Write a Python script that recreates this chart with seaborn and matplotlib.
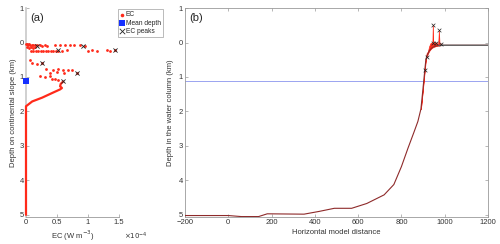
import numpy as np
import pandas as pd
import matplotlib
matplotlib.use("Agg")
import matplotlib.pyplot as plt
import seaborn as sns

# ---------------- data: panel (a) ----------------
# EC values in units of 1e-4 W m^-3, depth in km
ec_dots = [0.0, 0.01, 0.03, 0.05, 0.07, 0.09, 0.12, 0.15, 0.18, 0.22, 0.26, 0.30, 0.34, 0.47, 0.55, 0.63, 0.71, 0.77, 0.87, 0.95,
           0.02, 0.05, 0.08, 0.11, 0.15,
           0.08, 0.12, 0.16, 0.20, 0.24, 0.28, 0.32, 0.36, 0.40, 0.44, 0.48, 0.52, 0.58, 0.66, 1.00, 1.06, 1.15, 1.31, 1.35, 1.43,
           0.06, 0.10, 0.17, 0.26,
           0.33, 0.44, 0.52, 0.60, 0.68, 0.74, 0.39, 0.50, 0.62, 0.82,
           0.23, 0.30, 0.39, 0.42, 0.47, 0.52]
depth_dots = [0.05, 0.04, 0.06, 0.05, 0.07, 0.06, 0.07, 0.08, 0.07, 0.08, 0.09, 0.08, 0.09, 0.08, 0.08, 0.08, 0.08, 0.08, 0.08, 0.09,
              0.14, 0.15, 0.14, 0.15, 0.14,
              0.24, 0.25, 0.24, 0.25, 0.24, 0.25, 0.25, 0.24, 0.25, 0.25, 0.24, 0.25, 0.24, 0.22, 0.24, 0.23, 0.24, 0.23, 0.24, 0.23,
              0.50, 0.58, 0.62, 0.58,
              0.78, 0.79, 0.78, 0.80, 0.79, 0.80, 0.87, 0.86, 0.88, 0.87,
              0.98, 0.99, 0.98, 1.06, 1.07, 1.08]
ec_line = [0.60, 0.56, 0.55, 0.58, 0.55, 0.44, 0.26, 0.10, 0.0, 0.0, 0.0]
depth_line = [1.13, 1.20, 1.27, 1.32, 1.36, 1.45, 1.60, 1.71, 1.85, 3.9, 5.0]
peak_ec = [0.18, 0.92, 0.52, 1.43, 0.26, 0.82, 0.60]
peak_depth = [0.09, 0.09, 0.23, 0.23, 0.58, 0.87, 1.13]
mean_depth = 1.11

# ---------------- data: panel (b) ----------------
topo_x = [-200, 0, 60, 140, 180, 350, 420, 490, 570, 640, 720, 765, 800, 830, 858, 876, 890, 897, 903, 908, 913,
          917, 922, 928, 934, 940, 943, 945, 947, 952, 957, 961, 965, 970, 973, 976, 982, 990, 1000, 1200]
topo_d = [5.02, 5.02, 5.05, 5.05, 4.97, 4.98, 4.90, 4.81, 4.81, 4.67, 4.42, 4.12, 3.60, 3.07, 2.60, 2.29, 1.93, 1.50, 1.12, 0.80, 0.49,
          0.40, 0.33, 0.25, 0.20, 0.16, 0.15, 0.14, 0.13, 0.12, 0.11, 0.10, 0.095, 0.09, 0.088, 0.085, 0.082, 0.08, 0.08, 0.08]
ec_ext = [0, 0, 0, 0, 0, 0, 0, 0, 0, 0, 0, 0, 0, 0, 0, 0, 0.01, 0.03, 0.05, 0.08, 0.06,
          0.10, 0.06, 0.14, 0.18, 0.16, 0.12, 0.66, 0.12, 0.13, 0.11, 0.10, 0.06, 0.05, 0.44, 0.04, 0.06, 0.0, 0.0, 0.0]
peak_x = [945, 973, 945, 959, 982, 917, 908]
peak_d = [-0.52, -0.35, 0.01, 0.02, 0.03, 0.43, 0.81]

ytick_vals = [-1, 0, 1, 2, 3, 4, 5]
ytick_labels = ["1", "0", "1", "2", "3", "4", "5"]
xa_ticks = [0, 0.5, 1, 1.5]
xa_labels = ["0", "0.5", "1", "1.5"]
xb_ticks = [-200, 0, 200, 400, 600, 800, 1000, 1200]

# ---------------- style ----------------
sns.set_style("ticks")
plt.rcParams["font.family"] = ["Liberation Sans", "DejaVu Sans"]
plt.rcParams["axes.edgecolor"] = "#9a9a9a"
plt.rcParams["xtick.color"] = "#9a9a9a"
plt.rcParams["ytick.color"] = "#9a9a9a"
plt.rcParams["xtick.labelcolor"] = "#333333"
plt.rcParams["ytick.labelcolor"] = "#333333"
plt.rcParams["xtick.direction"] = "in"
plt.rcParams["ytick.direction"] = "in"

fs = 5.5
fig = plt.figure(figsize=(5.0, 2.44), dpi=100)
axa = fig.add_axes([0.052, 0.111, 0.186, 0.856])
axb = fig.add_axes([0.370, 0.111, 0.606, 0.856])

# ---------------- panel (a) ----------------
dfa_dots = pd.DataFrame({"ec": ec_dots, "depth": depth_dots})
dfa_line = pd.DataFrame({"ec": ec_line, "depth": depth_line})
dfa_peak = pd.DataFrame({"ec": peak_ec, "depth": peak_depth})

for s in axa.spines.values():
    s.set_zorder(1)
sns.lineplot(data=dfa_line, x="ec", y="depth", sort=False, estimator=None, ax=axa,
             color="#ff2a1a", lw=1.6, zorder=6, clip_on=False)
sns.scatterplot(data=dfa_dots, x="ec", y="depth", ax=axa, color="#ff2a1a", s=4,
                linewidth=0, zorder=4, label="EC", clip_on=False)
sns.scatterplot(x=[0], y=[mean_depth], ax=axa, color="#1530ff", marker="s", s=14,
                linewidth=0, zorder=7, label="Mean depth", clip_on=False)
sns.scatterplot(data=dfa_peak, x="ec", y="depth", ax=axa, color="#222222", marker="x",
                s=9, linewidth=0.6, zorder=8, label="EC peaks")

axa.set_xlim(0, 1.5)
axa.set_ylim(5.06, -1)
axa.set_xticks(xa_ticks)
axa.set_xticklabels(xa_labels)
axa.set_yticks(ytick_vals)
axa.set_yticklabels(ytick_labels)
axa.tick_params(labelsize=fs, length=2, width=0.5, pad=1.5)
for s in ["top", "right"]:
    axa.spines[s].set_visible(False)
axa.spines["left"].set_linewidth(1.2)
axa.spines["left"].set_color("#c8c8c8")
axa.spines["bottom"].set_linewidth(0.6)
axa.set_xlabel("EC (W m$^{-3}$)", fontsize=fs, color="#333333", labelpad=2)
axa.set_ylabel("Depth on continental slope (km)", fontsize=fs, color="#333333", labelpad=2)
axa.text(1.18, -0.095, r"$\times10^{-4}$", transform=axa.transAxes, fontsize=fs - 0.5,
         color="#333333", ha="center", va="center")
axa.text(0.05, 0.975, "(a)", transform=axa.transAxes, fontsize=8, ha="left", va="top")
leg = axa.legend(loc="upper left", bbox_to_anchor=(0.985, 0.995), fontsize=4.8, frameon=True,
                 handlelength=0.6, handletextpad=0.3, borderpad=0.35, labelspacing=0.2,
                 markerscale=1.3, fancybox=False, borderaxespad=0)
leg.get_frame().set_linewidth(0.5)
leg.get_frame().set_edgecolor("#888888")

# ---------------- panel (b) ----------------
topo_arr = np.array(topo_d)
ext_arr = np.array(ec_ext)
top_arr = topo_arr - ext_arr
axb.fill_between(topo_x, topo_arr, top_arr, where=ext_arr > 0, color="#ff2a1a",
                 lw=0.5, edgecolor="#ff2a1a", zorder=2)
axb.axhline(mean_depth, color="#9aa4f0", lw=0.7, zorder=1)
dfb = pd.DataFrame({"x": topo_x, "d": topo_d})
sns.lineplot(data=dfb, x="x", y="d", sort=False, estimator=None, ax=axb,
             color="#8e2a2a", lw=0.8, zorder=3)
axb.plot(topo_x[-6:], topo_d[-6:], color="#666666", lw=1.0, zorder=3)
dfb_peak = pd.DataFrame({"x": peak_x, "d": peak_d})
sns.scatterplot(data=dfb_peak, x="x", y="d", ax=axb, color="#222222", marker="x",
                s=7, linewidth=0.5, zorder=5)

axb.set_xlim(-200, 1200)
axb.set_ylim(5.06, -1)
axb.set_xticks(xb_ticks)
axb.set_yticks(ytick_vals)
axb.set_yticklabels(ytick_labels)
axb.tick_params(labelsize=fs, length=2, width=0.5, pad=1.5, top=True, right=True)
for s in axb.spines.values():
    s.set_linewidth(0.6)
axb.set_xlabel("Horizontal model distance", fontsize=fs, color="#333333", labelpad=2)
axb.set_ylabel("Depth in the water column (km)", fontsize=fs, color="#333333", labelpad=3)
axb.text(0.015, 0.975, "(b)", transform=axb.transAxes, fontsize=8, ha="left", va="top")

fig.savefig("out.png", dpi=100)
